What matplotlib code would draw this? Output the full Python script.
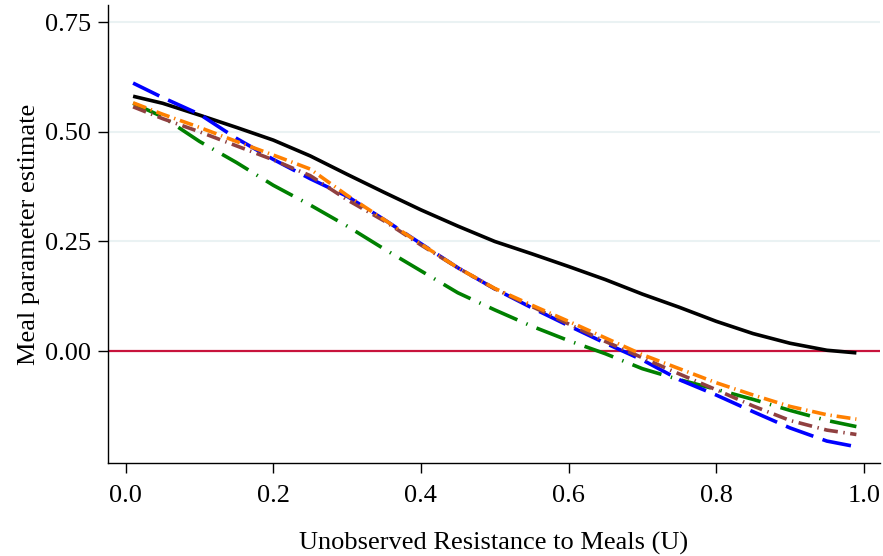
import matplotlib
matplotlib.use("Agg")
import matplotlib.pyplot as plt

u = [0.01, 0.05, 0.10, 0.15, 0.20, 0.25, 0.30, 0.35, 0.40, 0.45, 0.50,
     0.55, 0.60, 0.65, 0.70, 0.75, 0.80, 0.85, 0.90, 0.95, 0.99]

black = [0.581, 0.565, 0.538, 0.510, 0.481, 0.445, 0.403, 0.362, 0.322, 0.285, 0.250,
         0.222, 0.193, 0.163, 0.130, 0.100, 0.068, 0.040, 0.018, 0.002, -0.004]
blue = [0.611, 0.578, 0.540, 0.485, 0.437, 0.393, 0.353, 0.300, 0.245, 0.190, 0.142,
        0.099, 0.058, 0.018, -0.020, -0.065, -0.100, -0.138, -0.175, -0.205, -0.218]
orange = [0.566, 0.540, 0.510, 0.478, 0.447, 0.415, 0.355, 0.300, 0.244, 0.190, 0.143,
          0.105, 0.068, 0.030, -0.008, -0.040, -0.072, -0.100, -0.126, -0.145, -0.155]
brown = [0.557, 0.530, 0.500, 0.468, 0.436, 0.400, 0.345, 0.297, 0.242, 0.190, 0.142,
         0.102, 0.062, 0.022, -0.015, -0.052, -0.088, -0.125, -0.158, -0.180, -0.190]
green = [0.565, 0.534, 0.478, 0.430, 0.378, 0.333, 0.285, 0.233, 0.183, 0.133, 0.094,
         0.057, 0.024, -0.006, -0.040, -0.065, -0.087, -0.110, -0.135, -0.158, -0.172]

yticks = [0.00, 0.25, 0.50, 0.75]
xticks = [0.0, 0.2, 0.4, 0.6, 0.8, 1.0]

plt.rcParams['font.family'] = ['Liberation Serif', 'DejaVu Serif']
plt.rcParams['lines.scale_dashes'] = False

fig = plt.figure(figsize=(8.83, 5.56), dpi=100)
ax = fig.add_axes([108/883, 1 - 463/556, (880 - 108)/883, (463 - 5)/556])

for yv in yticks[1:]:
    ax.axhline(yv, color='#eaf2f3', lw=1.5, zorder=0)
ax.axhline(0, color='#c8143c', lw=1.6, zorder=1)

lw = 2.6
ax.plot(u, black, color='black', lw=lw, solid_capstyle='butt', zorder=3)
l, = ax.plot(u, green, color='#008000', lw=lw, zorder=3)
l.set_dashes([22, 7, 1, 7])
l, = ax.plot(u, blue, color='#0000ff', lw=lw, zorder=3)
l.set_dashes([21, 7])
l, = ax.plot(u, brown, color='#904040', lw=lw, zorder=4)
l.set_dashes([10, 4, 1, 4])
l, = ax.plot(u, orange, color='#ff8000', lw=lw, zorder=5)
l.set_dashes([10, 3.5, 1, 3.5])

ax.set_xlim(-0.024, 1.022)
ax.set_ylim(-0.255, 0.789)
ax.set_yticks(yticks)
ax.set_yticklabels(['0.00', '0.25', '0.50', '0.75'])
ax.set_xticks(xticks)
ax.set_xticklabels(['0.0', '0.2', '0.4', '0.6', '0.8', '1.0'])

for s in ['top', 'right']:
    ax.spines[s].set_visible(False)
for s in ['left', 'bottom']:
    ax.spines[s].set_linewidth(1.0)
ax.tick_params(axis='both', direction='out', length=7, width=1, labelsize=19, pad=5)
ax.tick_params(axis='x', pad=9)

ax.set_xlabel('Unobserved Resistance to Meals (U)', fontsize=19, labelpad=18)
ax.set_ylabel('Meal parameter estimate', fontsize=19, labelpad=4)

fig.savefig('out.png', dpi=100)
